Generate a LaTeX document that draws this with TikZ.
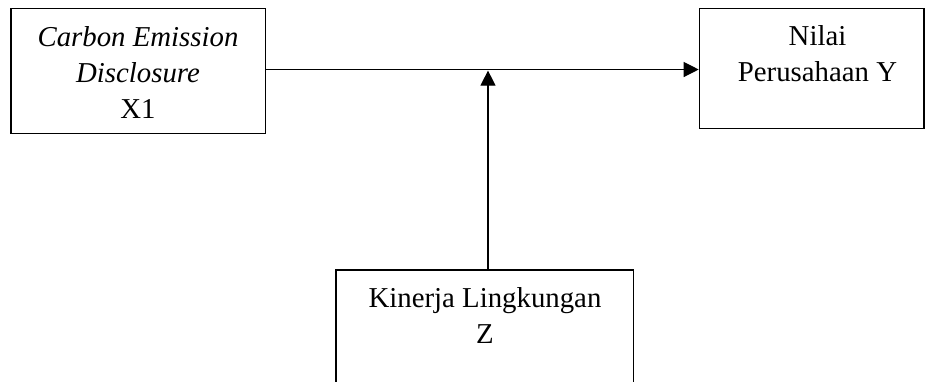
\documentclass[tikz,border=0pt]{standalone}
\usepackage{fontspec}
\setmainfont{Liberation Serif}
\usetikzlibrary{arrows.meta}
\begin{document}
\begin{tikzpicture}[x=1pt,y=1pt,
  box/.style={draw=black,line width=1.2pt,rectangle,inner sep=0pt},
  lbl/.style={anchor=base,inner sep=0pt,font=\fontsize{28.8}{36}\selectfont},
  arr/.style={draw=black,line width=1.2pt,-{Triangle[length=15pt,width=15pt]}}]
\useasboundingbox (0,0) rectangle (925,-381);
\clip (0,0) rectangle (925,-381);
\fill[white] (0,0) rectangle (925,-381);
% boxes
\node[box,minimum width=254.7pt,minimum height=125pt] (x1) at (138.35,-70.8) {};
\node[box,minimum width=224.7pt,minimum height=120.4pt] (y) at (811.65,-68.5) {};
\node[box,minimum width=297.3pt,minimum height=140pt] (z) at (484.65,-340) {};
% texts
\node[lbl] (tx1) at (138,-46.7) {\begin{tabular}[t]{@{}c@{}}\textit{Carbon Emission}\\\textit{Disclosure}\\X1\end{tabular}};
\node[lbl] (ty) at (817.5,-45.7) {\begin{tabular}[t]{@{}c@{}}Nilai\\Perusahaan Y\end{tabular}};
\node[lbl] (tz) at (485,-307) {\begin{tabular}[t]{@{}c@{}}Kinerja Lingkungan\\Z\end{tabular}};
% connectors
\coordinate (m) at (488,-69.5);
\coordinate (mt) at (488,-70.6);
\draw[arr] (x1.east |- m) -- (y.west |- m);
\draw[arr] (z.north -| mt) -- (mt);
\end{tikzpicture}
\end{document}
